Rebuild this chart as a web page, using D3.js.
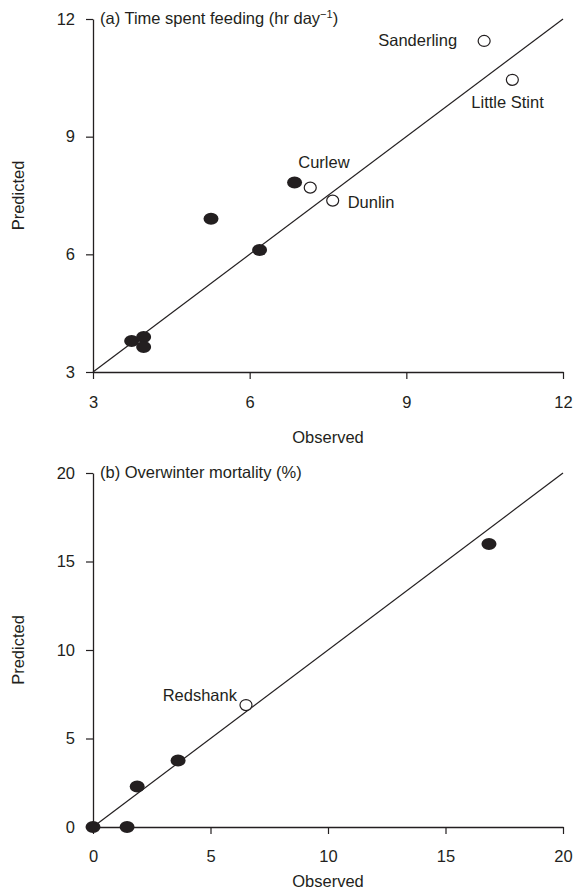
<!DOCTYPE html>
<html><head><meta charset="utf-8">
<script src="https://cdn.jsdelivr.net/npm/d3@7"></script>
<style>body{margin:0;background:#fff}svg{display:block}text{font-family:"Liberation Sans",Arial,sans-serif;fill:#231f20}</style>
</head><body>
<script>
// Panel (a): time spent feeding (hr day-1)
const feedTicks = [3, 6, 9, 12];
const feedObserved  = [3.74, 3.97, 3.97, 5.26, 6.19, 6.86, 7.16, 7.59, 10.49, 11.03];
const feedPredicted = [3.79, 3.89, 3.64, 6.91, 6.11, 7.83, 7.70, 7.37, 11.44, 10.45];
const feedOpen      = [false, false, false, false, false, false, true, true, true, true];
const feedLabels    = ["", "", "", "", "", "", "Curlew", "Dunlin", "Sanderling", "Little Stint"];

// Panel (b): overwinter mortality (%)
const mortTicks = [0, 5, 10, 15, 20];
const mortObserved  = [0, 1.45, 1.88, 3.62, 16.85, 6.51];
const mortPredicted = [0, 0, 2.29, 3.76, 15.99, 6.89];
const mortOpen      = [false, false, false, false, false, true];
const mortLabels    = ["", "", "", "", "", "Redshank"];

const W = 575, H = 892;
const svg = d3.select("body").append("svg").attr("width", W).attr("height", H);
const ink = "#231f20";
const FS = 16.5;

function panel(cfg) {
  const x = d3.scaleLinear().domain(cfg.domain).range([cfg.left, cfg.right]);
  const y = d3.scaleLinear().domain(cfg.domain).range([cfg.bottom, cfg.top]);
  const g = svg.append("g");

  const xa = g.append("g").attr("transform", `translate(0,${cfg.bottom})`)
    .call(d3.axisBottom(x).tickValues(cfg.ticks).tickSize(7).tickPadding(cfg.xPad).tickSizeOuter(0));
  const ya = g.append("g").attr("transform", `translate(${cfg.left},0)`)
    .call(d3.axisLeft(y).tickValues(cfg.ticks).tickSize(7).tickPadding(11).tickSizeOuter(0));
  [xa, ya].forEach(a => {
    a.select(".domain").attr("stroke", ink).attr("stroke-width", 1.3);
    a.selectAll(".tick line").attr("stroke", ink).attr("stroke-width", 1.2);
    a.selectAll(".tick text").attr("font-size", FS).attr("font-family", "Liberation Sans, Arial, sans-serif").attr("fill", ink);
  });

  // 1:1 line
  g.append("line")
    .attr("x1", x(cfg.domain[0])).attr("y1", y(cfg.domain[0]))
    .attr("x2", x(cfg.domain[1])).attr("y2", y(cfg.domain[1]))
    .attr("stroke", ink).attr("stroke-width", 1.2);

  const data = cfg.obs.map((o, i) => ({o, p: cfg.pred[i], open: cfg.open[i], label: cfg.labels[i]}));
  g.selectAll("ellipse.pt").data(data).join("ellipse")
    .attr("class", "pt")
    .attr("cx", d => x(d.o)).attr("cy", d => y(d.p))
    .attr("rx", d => d.open ? 6 : 7.5).attr("ry", d => d.open ? 5.5 : 6)
    .attr("fill", d => d.open ? "#fff" : ink)
    .attr("stroke", ink).attr("stroke-width", d => d.open ? 1.2 : 0);

  g.selectAll("text.lab").data(data.filter(d => d.label)).join("text")
    .attr("class", "lab")
    .attr("x", d => x(d.o) + cfg.labelOff[d.label][0])
    .attr("y", d => y(d.p) + cfg.labelOff[d.label][1])
    .attr("text-anchor", d => cfg.labelOff[d.label][2])
    .attr("font-size", FS)
    .text(d => d.label);

  // title
  const t = g.append("text").attr("x", cfg.left + 7).attr("y", cfg.top + 5).attr("font-size", FS);
  cfg.title(t);

  // axis labels
  g.append("text").attr("x", (cfg.left + cfg.right) / 2).attr("y", cfg.bottom + cfg.obsOff)
    .attr("text-anchor", "middle").attr("font-size", FS).text("Observed");
  g.append("text").attr("transform", `translate(24,${(cfg.top + cfg.bottom) / 2}) rotate(-90)`)
    .attr("text-anchor", "middle").attr("font-size", FS).text("Predicted");
}

panel({
  domain: [3, 12], ticks: feedTicks, left: 93, right: 563, top: 19, bottom: 372, xPad: 17, obsOff: 71,
  obs: feedObserved, pred: feedPredicted, open: feedOpen, labels: feedLabels,
  labelOff: {
    "Curlew": [-12, -20, "start"],
    "Dunlin": [15, 7, "start"],
    "Sanderling": [-27, 5, "end"],
    "Little Stint": [-41, 28, "start"]
  },
  title: t => {
    t.append("tspan").text("(a) Time spent feeding (hr day");
    t.append("tspan").attr("dy", -6).attr("font-size", 11).text("\u22121");
    t.append("tspan").attr("dy", 6).text(")");
  }
});

panel({
  domain: [0, 20], ticks: mortTicks, left: 93, right: 563, top: 473, bottom: 827, xPad: 16, obsOff: 60,
  obs: mortObserved, pred: mortPredicted, open: mortOpen, labels: mortLabels,
  labelOff: {
    "Redshank": [-9, -4, "end"]
  },
  title: t => t.text("(b) Overwinter mortality (%)")
});
</script>
</body></html>
